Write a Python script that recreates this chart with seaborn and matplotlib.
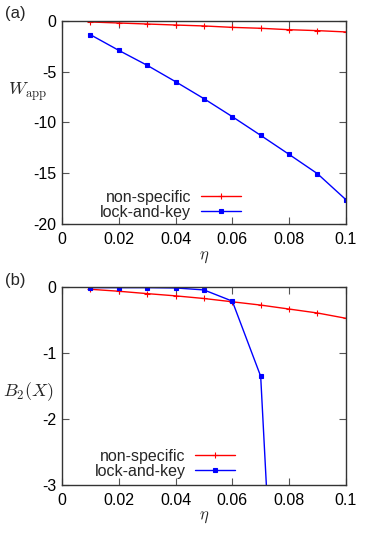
import numpy as np
import matplotlib
matplotlib.use("Agg")
import matplotlib.pyplot as plt
import pandas as pd
import seaborn as sns

# data
eta = [0.01, 0.02, 0.03, 0.04, 0.05, 0.06, 0.07, 0.08, 0.09, 0.1]
w_nonspec = [-0.13, -0.23, -0.33, -0.43, -0.52, -0.66, -0.75, -0.89, -0.98, -1.11]
w_lock = [-1.38, -2.92, -4.39, -6.0, -7.67, -9.44, -11.28, -13.15, -15.05, -17.6]
b_nonspec = [-0.03, -0.06, -0.096, -0.13, -0.17, -0.22, -0.27, -0.33, -0.39, -0.47]
b_lock = [-0.005, -0.005, -0.005, -0.01, -0.04, -0.21, -1.35, -9.6, -20.0, -35.0]

names = ["non-specific", "lock-and-key"]
colors = ["#ff0000", "#0000ff"]
marks = ["+", "s"]

sns.set_style("ticks")
plt.rcParams["font.family"] = ["Liberation Sans", "DejaVu Sans"]
plt.rcParams["mathtext.fontset"] = "cm"
plt.rcParams["axes.unicode_minus"] = False

fig = plt.figure(figsize=(3.81, 5.38), dpi=100)
ax1 = fig.add_axes([0.1627, 0.5836, 0.745, 0.378])
ax2 = fig.add_axes([0.1627, 0.0985, 0.745, 0.3675])


def draw(ax, series, ylim, yticks, ylabel, ylab_pos, leg_anchor):
    for vals, name, c, m in zip(series, names, colors, marks):
        sns.lineplot(x=eta, y=vals, color=c, marker=m, label=name, ax=ax,
                     linewidth=1, markersize=2.5 if m == "s" else 4,
                     markeredgewidth=0.8, markeredgecolor=c)
    ax.set_xlim(0, 0.1)
    ax.set_ylim(*ylim)
    ax.set_xticks([0, 0.02, 0.04, 0.06, 0.08, 0.1])
    ax.set_xticklabels(["0", "0.02", "0.04", "0.06", "0.08", "0.1"])
    ax.set_yticks(yticks)
    ax.set_yticklabels([str(t) for t in yticks])
    ax.tick_params(direction="in", top=True, right=True, labelsize=11.5,
                   length=5, width=0.8, pad=6, colors="#555555",
                   labelcolor="black")
    ax.tick_params(axis="y", pad=4)
    for s in ax.spines.values():
        s.set_linewidth(1.0)
        s.set_color("#333333")
    ax.set_xlabel(r"$\eta$", fontsize=12)
    ax.xaxis.set_label_coords(0.5, -0.125)
    ax.set_ylabel(ylabel, fontsize=13, rotation=0, ha="center", va="center")
    ax.yaxis.set_label_coords(*ylab_pos)
    ax.legend(loc="lower right", bbox_to_anchor=leg_anchor,
              frameon=False, markerfirst=False, fontsize=11.5,
              handlelength=2.5, handletextpad=0.6, labelspacing=0.0,
              borderaxespad=0, borderpad=0)


draw(ax1, [w_nonspec, w_lock], (-20, 0), [0, -5, -10, -15, -20],
     r"$W_{\rm app}$", (-0.12, 0.65), (0.63, 0.02))
draw(ax2, [b_nonspec, b_lock], (-3, 0), [0, -1, -2, -3],
     r"$B_2(X)$", (-0.12, 0.47), (0.61, 0.03))

fig.text(0.012, 0.975, "(a)", fontsize=12, va="center")
fig.text(0.012, 0.478, "(b)", fontsize=12, va="center")

fig.savefig("out.png", dpi=100)
